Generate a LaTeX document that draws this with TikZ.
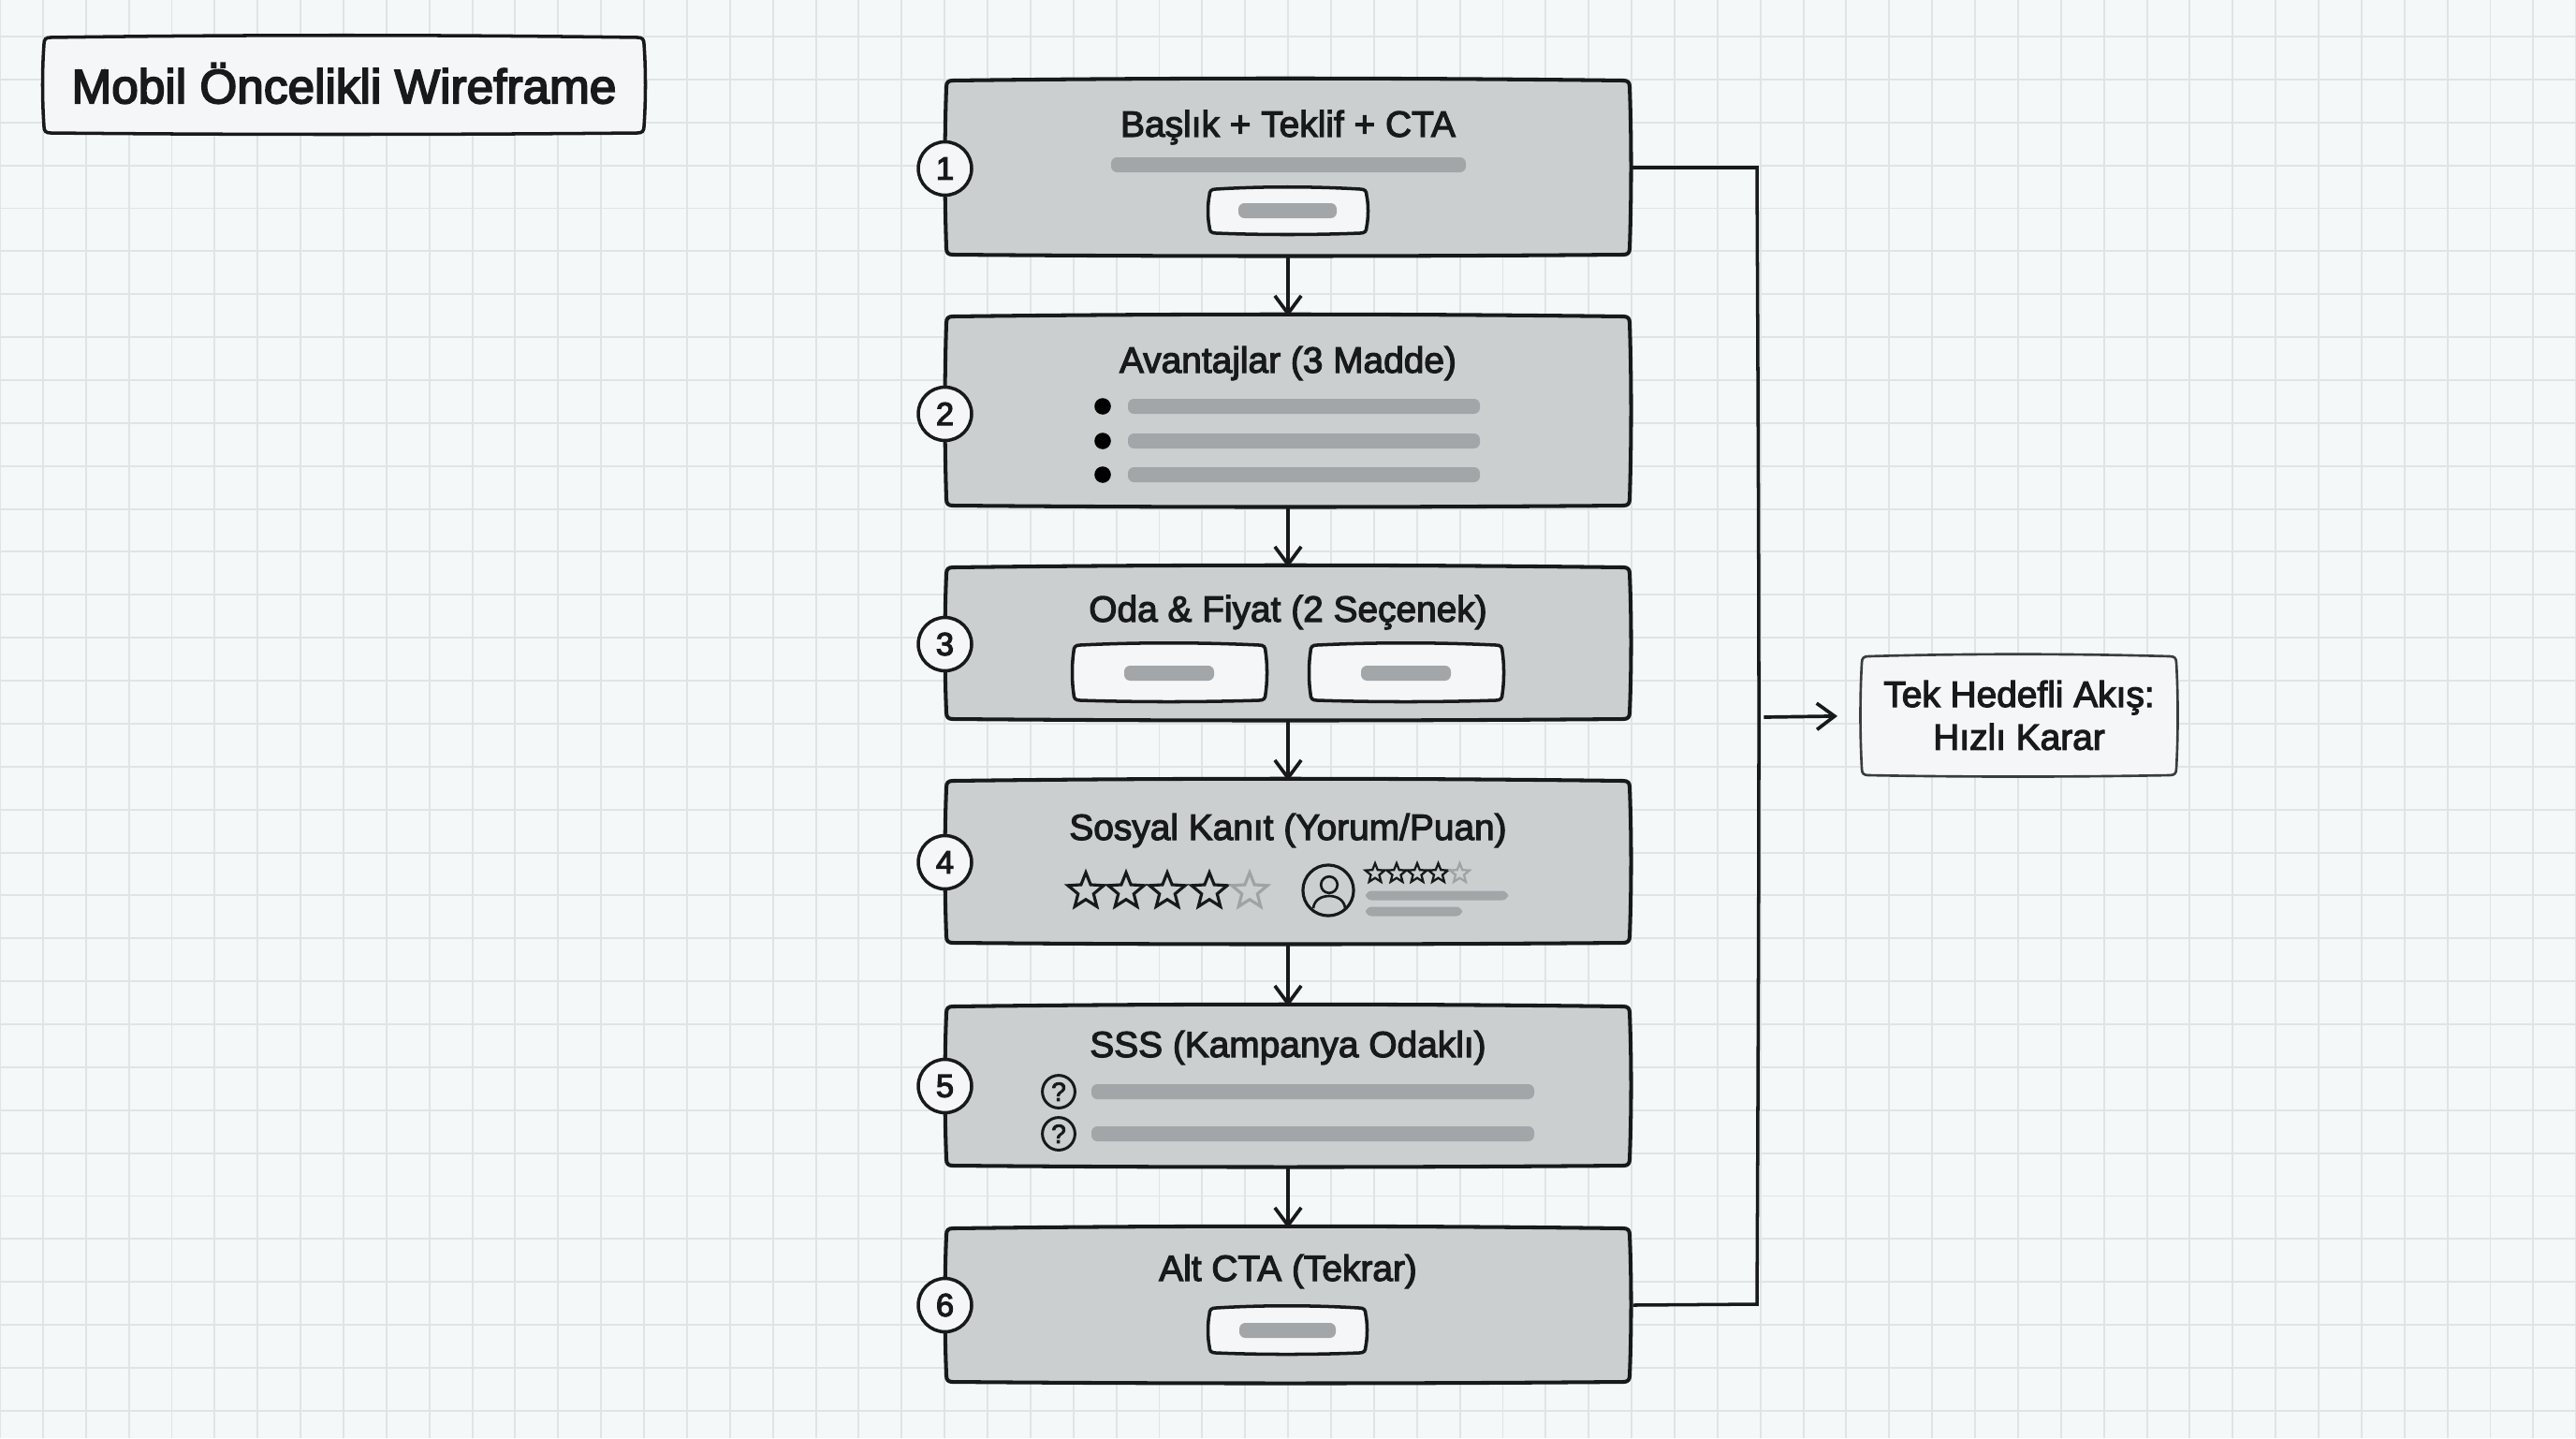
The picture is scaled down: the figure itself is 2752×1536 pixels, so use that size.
\documentclass[tikz,border=0pt]{standalone}
\usepackage{fontspec}
\setmainfont{Liberation Sans}
\newfontfamily\medfont[FakeBold=3]{Liberation Sans}
\newfontfamily\numfont[FakeBold=3.5]{Liberation Sans}
\usetikzlibrary{arrows.meta,shapes.geometric}
\definecolor{bgc}{HTML}{F4F8F9}
\definecolor{gridc}{HTML}{E0E4E6}
\definecolor{boxc}{HTML}{CBCFD0}
\definecolor{barc}{HTML}{A3A6A8}
\definecolor{inkc}{HTML}{17191B}
\definecolor{paperc}{HTML}{F4F6F7}
\definecolor{dimc}{HTML}{A0A3A5}
\tikzset{
  gridline/.style={draw=gridc,line width=.55pt},
  anchorbox/.style={inner sep=0pt,outer sep=0pt,draw=none,fill=none,rectangle},
  sectionbox/.style={draw=inkc,fill=boxc,line width=1.15pt},
  whitebox/.style={draw=inkc,fill=paperc,line width=1pt},
  notebox/.style={draw=inkc!85,fill=paperc,line width=.75pt},
  bar/.style={fill=barc,rounded corners=1.8pt},
  numc/.style={circle,draw=inkc,fill=paperc,line width=1pt,minimum size=16.2pt,inner sep=0pt,text=inkc,font=\numfont\fontsize{9.8}{11}\selectfont},
  heading/.style={text=inkc,inner sep=0pt,font=\medfont\fontsize{11.05}{13}\selectfont},
  flow/.style={draw=inkc,line width=1.05pt,-{Straight Barb[length=5.4pt,width=8pt,line width=1.05pt]}},
  link/.style={draw=inkc,line width=1pt},
  bullet/.style={circle,fill=black,minimum size=5pt,inner sep=0pt},
  bigstar/.style={star,star points=5,star point ratio=2.3,draw=inkc,line width=.9pt,minimum size=11.4pt,inner sep=0pt},
  smallstar/.style={star,star points=5,star point ratio=2.3,draw=inkc,line width=.65pt,minimum size=6.2pt,inner sep=0pt},
  dimstar/.style={draw=dimc},
  qmark/.style={circle,draw=inkc,line width=.85pt,minimum size=9.9pt,inner sep=0pt,text=inkc,font=\medfont\fontsize{8}{9}\selectfont},
  avatar/.style={circle,draw=inkc,line width=.9pt,minimum size=15.4pt,inner sep=0pt},
  head/.style={circle,draw=inkc,line width=.75pt,minimum size=5pt,inner sep=0pt},
}
% name, style, x1, y1, x2, y2: an outline with slightly bowed sides, named through a node
\newcommand{\skbox}[6]{%
  \draw[#2]
    ({#3+7},#4) .. controls ({#3+(#5-#3)*.33},{#4-3}) and ({#3+(#5-#3)*.66},{#4-3}) .. ({#5-7},#4)
    .. controls ({#5-2},#4) and ({#5},{#4+2}) .. ({#5},{#4+7})
    .. controls ({#5+2},{#4+(#6-#4)*.33}) and ({#5+2},{#4+(#6-#4)*.66}) .. ({#5},{#6-7})
    .. controls ({#5},{#6-2}) and ({#5-2},{#6}) .. ({#5-7},{#6})
    .. controls ({#3+(#5-#3)*.66},{#6+2}) and ({#3+(#5-#3)*.33},{#6+2}) .. ({#3+7},{#6})
    .. controls ({#3+2},{#6}) and ({#3},{#6-2}) .. ({#3},{#6-7})
    .. controls ({#3-2},{#4+(#6-#4)*.66}) and ({#3-2},{#4+(#6-#4)*.33}) .. ({#3},{#4+7})
    .. controls ({#3},{#4+2}) and ({#3+2},{#4}) .. ({#3+7},{#4}) -- cycle;
  \node[anchorbox,minimum width={(#5-#3)*0.01cm},minimum height={(#6-#4)*0.01cm}] (#1) at ({(#3+#5)/2},{(#4+#6)/2}) {};
}
\newcommand{\skbar}[4]{\fill[bar] (#1,{#3-#4/2}) rectangle (#2,{#3+#4/2});}
\begin{document}
\begin{tikzpicture}[x=0.01cm,y=-0.01cm]
\useasboundingbox (0,0) rectangle (2752,1536);
\fill[bgc] (0,0) rectangle (2752,1536);
\foreach \k in {0,...,60} \draw[gridline] ({\k*45.87},0) -- ({\k*45.87},1536);
\foreach \k in {0,...,32} \draw[gridline] (0,{39+\k*45.87}) -- (2752,{39+\k*45.87});

% title
\skbox{ttl}{whitebox}{47}{40}{688}{142}
\node[text=inkc,inner sep=0pt,font=\numfont\fontsize{14.6}{17}\selectfont] (ttltext) at (367.5,89) {Mobil Öncelikli Wireframe};

% sections
\skbox{b1}{sectionbox}{1011}{86}{1741}{272}
\skbox{b2}{sectionbox}{1011}{338}{1741}{540}
\skbox{b3}{sectionbox}{1011}{606}{1741}{768}
\skbox{b4}{sectionbox}{1011}{834}{1741}{1007}
\skbox{b5}{sectionbox}{1011}{1075}{1741}{1245}
\skbox{b6}{sectionbox}{1011}{1312}{1741}{1476}

% connectors
\draw[flow] (b1.south) -- (b2.north);
\draw[flow] (b2.south) -- (b3.north);
\draw[flow] (b3.south) -- (b4.north);
\draw[flow] (b4.south) -- (b5.north);
\draw[flow] (b5.south) -- (b6.north);
\coordinate (bustop) at (1877,179);
\coordinate (busmid) at (1879,766);
\coordinate (busbot) at (1877,1393);
\draw[link,line join=miter] (b1.east) -- (bustop) .. controls (1878,400) and (1879,600) .. (busmid) .. controls (1879,950) and (1878,1200) .. (busbot) -- ([xshift=1pt]b6.east);

% note
\skbox{goal}{notebox}{1989}{701}{2325}{828}
\node[text=inkc,inner sep=0pt,align=center,font=\medfont\fontsize{11.05}{13}\selectfont] (goaltext) at (2157,764) {Tek Hedefli Akış:\\Hızlı Karar};
\draw[flow,shorten >=7.4pt] ([xshift=1.5pt]busmid) -- (goal.west);

% numbers
\node[numc] (n1) at (1009.5,180) {1};
\node[numc] (n2) at (1009.5,442) {2};
\node[numc] (n3) at (1009.5,688) {3};
\node[numc] (n4) at (1009.5,921) {4};
\node[numc] (n5) at (1009.5,1160) {5};
\node[numc] (n6) at (1009.5,1394) {6};

% section 1
\node[heading] (t1) at (1376,136) {Başlık + Teklif + CTA};
\skbar{1187}{1566}{176}{16}
\skbox{btn1}{whitebox}{1292}{202}{1460}{249}
\skbar{1323}{1428}{225}{16}

% section 2
\node[heading] (t2) at (1376,388) {Avantajlar (3 Madde)};
\node[bullet] (d1) at (1178,434) {};
\node[bullet] (d2) at (1178,471) {};
\node[bullet] (d3) at (1178,507) {};
\skbar{1205}{1581}{434}{16}
\skbar{1205}{1581}{471}{16}
\skbar{1205}{1581}{507}{16}

% section 3
\node[heading] (t3) at (1376,654) {Oda \& Fiyat (2 Seçenek)};
\skbox{opt1}{whitebox}{1147}{689}{1352}{748}
\skbox{opt2}{whitebox}{1400}{689}{1605}{748}
\skbar{1201}{1297}{719}{16}
\skbar{1454}{1550}{719}{16}

% section 4
\node[heading] (t4) at (1376,887) {Sosyal Kanıt (Yorum/Puan)};
\node[bigstar] (s1) at (1160,952) {};
\node[bigstar] (s2) at (1203,952) {};
\node[bigstar] (s3) at (1247,952) {};
\node[bigstar] (s4) at (1292,952) {};
\node[bigstar,dimstar] (s5) at (1335,952) {};
\node[avatar] (av) at (1419,951) {};
\node[head] (avh) at (1420,945) {};
\draw[inkc,line width=.75pt] (1403,970) .. controls (1404,961) and (1412,957) .. (1420,957) .. controls (1428,957) and (1436,961) .. (1437,970);
\node[smallstar] (r1) at (1469,933) {};
\node[smallstar] (r2) at (1492,933) {};
\node[smallstar] (r3) at (1514,933) {};
\node[smallstar] (r4) at (1536.5,933) {};
\node[smallstar,dimstar] (r5) at (1559.5,933) {};
\skbar{1459}{1611}{956.5}{10}
\skbar{1459}{1562}{973.5}{10}

% section 5
\node[heading] (t5) at (1376,1119) {SSS (Kampanya Odaklı)};
\node[qmark] (q1) at (1131,1166) {?};
\node[qmark] (q2) at (1131,1211) {?};
\skbar{1166}{1639}{1166}{16}
\skbar{1166}{1639}{1211}{16}

% section 6
\node[heading] (t6) at (1376,1358) {Alt CTA (Tekrar)};
\skbox{btn6}{whitebox}{1292}{1397}{1459}{1445}
\skbar{1324}{1427}{1421}{16}
\end{tikzpicture}
\end{document}
